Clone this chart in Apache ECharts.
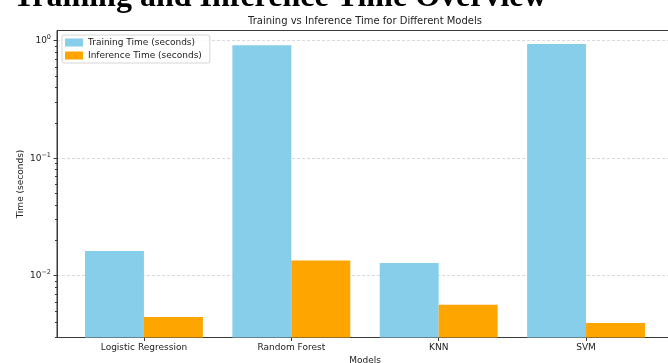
<!DOCTYPE html>
<html>
<head>
<meta charset="utf-8">
<style>
  html, body { margin: 0; padding: 0; background: #ffffff; }
  #chart { width: 668px; height: 363px; }
</style>
<script src="https://cdn.jsdelivr.net/npm/echarts@6/dist/echarts.min.js"></script>
</head>
<body>
<div id="chart"></div>
<script>
// Model names along the x axis
const models = ['Logistic Regression', 'Random Forest', 'KNN', 'SVM'];
// Timings in seconds
const trainingTime = [0.0162, 0.914, 0.0128, 0.937];
const inferenceTime = [0.00445, 0.0135, 0.00566, 0.00396];
// Log-axis ticks
const majorTicks = [0.01, 0.1, 1];
const majorTickLabels = ['10{s|−2}', '10{s|−1}', '10{s|0}'];
const minorTicks = [0.003, 0.004, 0.005, 0.006, 0.007, 0.008, 0.009,
                    0.02, 0.03, 0.04, 0.05, 0.06, 0.07, 0.08, 0.09,
                    0.2, 0.3, 0.4, 0.5, 0.6, 0.7, 0.8, 0.9];

const FONT = 'DejaVu Sans';
const TXT = '#222';
const AXIS = '#3a3a3a';
const BAR_W = 0.4;   // bar width in category units

const chart = echarts.init(document.getElementById('chart'), null, { renderer: 'canvas' });

const toPoints = arr => arr.map((v, i) => [i, v]);

// Bars on a log axis grow up from the bottom of the plot area
function barRenderer(offset) {
  return function (params, api) {
    const x = api.value(0);
    const v = api.value(1);
    const cs = params.coordSys;
    const topLeft = api.coord([x + offset, v]);
    const right = api.coord([x + offset + BAR_W, v])[0];
    const bottom = cs.y + cs.height;
    return {
      type: 'rect',
      shape: { x: topLeft[0], y: topLeft[1], width: right - topLeft[0], height: bottom - topLeft[1] },
      style: { fill: api.visual('color') }
    };
  };
}

chart.setOption({
  animation: false,
  backgroundColor: '#ffffff',
  graphic: [
    {
      type: 'text', x: 280, y: 14,
      style: {
        text: 'Training and Inference Time Overview',
        font: 'bold 32px "Liberation Serif"', fill: '#000',
        align: 'center', verticalAlign: 'bottom'
      }
    },
    {
      type: 'text', x: 365, y: 26,
      style: {
        text: 'Training vs Inference Time for Different Models',
        font: '10px "DejaVu Sans"', fill: TXT,
        align: 'center', verticalAlign: 'bottom'
      }
    }
  ],
  legend: {
    orient: 'vertical',
    left: 62, top: 35,
    icon: 'rect',
    itemWidth: 18, itemHeight: 8, itemGap: 4,
    padding: [3, 8, 3, 3],
    backgroundColor: 'rgba(255,255,255,0.8)',
    borderColor: '#d6d6d6', borderWidth: 1, borderRadius: 2,
    textStyle: { fontFamily: FONT, fontSize: 9, color: TXT },
    data: ['Training Time (seconds)', 'Inference Time (seconds)']
  },
  grid: {
    left: 57, top: 30.5, right: -5, bottom: 25.5,
    outerBoundsMode: 'none',
    containLabel: false,
    show: true, borderColor: AXIS, borderWidth: 1,
    backgroundColor: 'transparent'
  },
  xAxis: {
    type: 'value',
    min: -0.59, max: 3.59,
    name: 'Models', nameLocation: 'middle', nameGap: 19, nameMoveOverlap: false,
    nameTextStyle: { fontFamily: FONT, fontSize: 9, color: TXT },
    axisLine: { show: true, onZero: false, lineStyle: { color: AXIS, width: 1 } },
    axisTick: { show: true, customValues: [0, 1, 2, 3], length: 3.5, lineStyle: { color: AXIS } },
    axisLabel: {
      customValues: [0, 1, 2, 3], margin: 6,
      fontFamily: FONT, fontSize: 9, color: TXT,
      formatter: v => models[Math.round(v)] || ''
    },
    splitLine: { show: false }
  },
  yAxis: [
    {
      type: 'log', logBase: 10,
      min: 0.00298, max: 1.221,
      name: 'Time (seconds)', nameLocation: 'middle', nameGap: 32, nameRotate: 90,
      nameMoveOverlap: false,
      nameTextStyle: { fontFamily: FONT, fontSize: 9, color: TXT },
      axisLine: { show: true, onZero: false, lineStyle: { color: AXIS, width: 1 } },
      axisTick: { show: true, customValues: majorTicks, length: 3.5, lineStyle: { color: AXIS } },
      axisLabel: {
        customValues: majorTicks, margin: 6,
        fontFamily: FONT, fontSize: 9, color: TXT,
        formatter: v => {
          const i = majorTicks.findIndex(t => Math.abs(Math.log10(t) - Math.log10(v)) < 1e-6);
          return i >= 0 ? majorTickLabels[i] : '';
        },
        rich: {
          s: { fontFamily: FONT, fontSize: 6.5, color: TXT, padding: [0, 0, 6, 0] }
        }
      },
      splitLine: {
        show: true, customValues: majorTicks,
        lineStyle: { color: '#cfcfcf', type: [3, 2], width: 0.8 }
      }
    },
    {
      // minor ticks only
      type: 'log', logBase: 10,
      min: 0.00298, max: 1.221,
      position: 'left',
      axisLine: { show: false, onZero: false },
      axisTick: { show: true, customValues: minorTicks, length: 2, lineStyle: { color: AXIS } },
      axisLabel: { show: false },
      splitLine: { show: false }
    }
  ],
  series: [
    {
      name: 'Training Time (seconds)',
      type: 'custom',
      renderItem: barRenderer(-BAR_W),
      encode: { x: 0, y: 1 },
      data: toPoints(trainingTime),
      itemStyle: { color: '#87CEEB' }
    },
    {
      name: 'Inference Time (seconds)',
      type: 'custom',
      renderItem: barRenderer(0),
      encode: { x: 0, y: 1 },
      data: toPoints(inferenceTime),
      itemStyle: { color: '#FFA500' }
    }
  ]
});
</script>
</body>
</html>
